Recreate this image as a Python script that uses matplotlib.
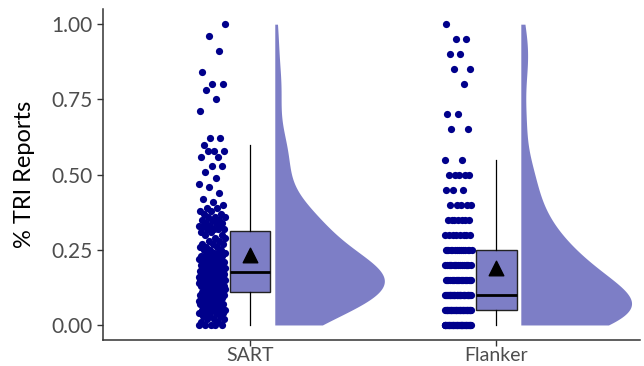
import numpy as np
import matplotlib
matplotlib.use('Agg')
import matplotlib.pyplot as plt

plt.rcParams['font.family'] = ['Lato', 'DejaVu Sans']

# categories
groups = ['SART', 'Flanker']

# SART proportions (value -> number of participants)
sart_values = [0.00, 0.01, 0.02, 0.03, 0.04, 0.05, 0.06, 0.07, 0.08, 0.09,
               0.10, 0.11, 0.12, 0.13, 0.14, 0.15, 0.16, 0.17, 0.18, 0.19,
               0.20, 0.21, 0.22, 0.23, 0.24, 0.25, 0.26, 0.27, 0.28, 0.29,
               0.30, 0.31, 0.32, 0.33, 0.34, 0.35, 0.36, 0.37, 0.38, 0.39,
               0.40, 0.41, 0.42, 0.44, 0.46, 0.47, 0.49, 0.51, 0.53, 0.56,
               0.58, 0.60, 0.62, 0.71, 0.75, 0.78, 0.80, 0.84, 0.91, 0.96, 1.00]
sart_counts = [5, 2, 3, 3, 4, 5, 4, 5, 5, 5,
               7, 6, 6, 7, 7, 8, 8, 10, 6, 5,
               5, 5, 4, 4, 4, 3, 3, 3, 2, 2,
               2, 2, 4, 4, 3, 3, 3, 2, 2, 2,
               1, 1, 1, 1, 1, 1, 1, 1, 2, 2,
               3, 1, 2, 1, 1, 1, 2, 1, 1, 1, 1]

# Flanker proportions
flanker_values = [0.00, 0.05, 0.10, 0.15, 0.20, 0.25, 0.30, 0.35, 0.40, 0.45,
                  0.50, 0.55, 0.65, 0.70, 0.80, 0.85, 0.90, 0.95, 1.00]
flanker_counts = [36, 34, 30, 20, 16, 14, 8, 7, 5, 3,
                  5, 2, 2, 2, 1, 2, 2, 2, 1]

data = [np.repeat(sart_values, sart_counts),
        np.repeat(flanker_values, flanker_counts)]

fill = '#7d7ec6'
dot = '#00008b'


def kde(x, grid, adjust=1.6):
    # gaussian kernel, R's bw.nrd0 times adjust
    iqr = np.subtract(*np.percentile(x, [75, 25]))
    h = adjust * 0.9 * min(np.std(x, ddof=1), iqr / 1.34) * len(x) ** -0.2
    z = (grid[:, None] - x[None, :]) / h
    return np.exp(-0.5 * z ** 2).sum(axis=1) / (len(x) * h * np.sqrt(2 * np.pi))


fig = plt.figure(figsize=(6.44, 3.66), dpi=100)
ax = fig.add_axes([0.16, 0.071, 0.834, 0.904])

grids = [np.linspace(d.min(), d.max(), 400) for d in data]
dens = [kde(d, g) for d, g in zip(data, grids)]
dmax = max(d.max() for d in dens)

for i, (d, g, k) in enumerate(zip(data, grids, dens)):
    pos = i + 1
    # half violin
    ax.fill_betweenx(g, pos + 0.10, pos + 0.10 + k / dmax * 0.45,
                     color=fill, lw=0, zorder=1)
    # jittered points
    jit = ((np.arange(len(d)) * 0.618034) % 1 - 0.5) * 0.11
    ax.scatter(pos - 0.155 + jit, d, s=27, color=dot, lw=0, zorder=3)
    # mean
    ax.scatter([pos], [d.mean()], marker='^', s=110, color='black', zorder=5)

ax.boxplot(data, positions=[1, 2], widths=0.165, whis=1.5, showfliers=False,
           showcaps=False, patch_artist=True,
           boxprops=dict(facecolor=fill, edgecolor='#222222', lw=1.0),
           medianprops=dict(color='black', lw=2.0),
           whiskerprops=dict(color='black', lw=0.9), zorder=4)

ax.set_xlim(0.402, 2.585)
ax.set_ylim(-0.05, 1.05)
ax.set_xticks([1, 2])
ax.set_xticklabels(groups)
ax.set_yticks([0, 0.25, 0.5, 0.75, 1.0])
ax.set_yticklabels(['0.00', '0.25', '0.50', '0.75', '1.00'])
ax.tick_params(axis='both', colors='#333333', labelcolor='#4d4d4d',
               length=4, width=1.0, labelsize=15)
ax.tick_params(axis='x', pad=1, labelsize=14)
ax.set_ylabel('% TRI Reports', fontsize=17, labelpad=12)

for s in ['top', 'right']:
    ax.spines[s].set_visible(False)
for s in ['left', 'bottom']:
    ax.spines[s].set_color('#333333')
    ax.spines[s].set_linewidth(1.1)

fig.savefig('out.png', dpi=100)
